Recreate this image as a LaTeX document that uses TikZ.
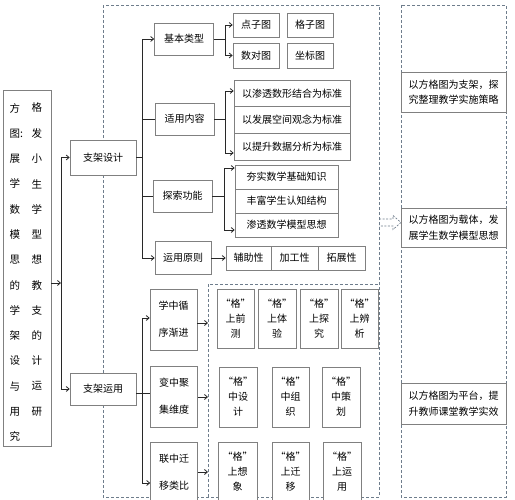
\documentclass[tikz,border=0pt]{standalone}
\usepackage{fontspec}
\setmainfont{Noto Sans CJK SC}
\usetikzlibrary{arrows.meta,calc}
\definecolor{boxgray}{RGB}{128,128,128}
\definecolor{lineblack}{RGB}{40,40,40}
\definecolor{dashgray}{RGB}{110,125,140}
\begin{document}
\begin{tikzpicture}[x=1pt,y=-1pt,
 box/.style={draw=boxgray, line width=0.6pt, fill=white, inner sep=0pt, font=\fontsize{10}{12}\selectfont},
 tbox/.style={box, align=center, font=\fontsize{10}{15}\selectfont},
 vbox/.style={box, align=center, minimum width=47, minimum height=61, font=\fontsize{10}{27}\selectfont},
 rbox/.style={box, align=left, minimum width=105, font=\fontsize{10}{15.5}\selectfont},
 conn/.style={draw=lineblack, line width=0.8pt},
 arr/.style={conn, -{Straight Barb[length=3pt,width=5pt]}},
 dbox/.style={draw=dashgray, line width=0.8pt, dash pattern=on 3pt off 2pt},
 ltxt/.style={anchor=west, inner sep=0pt, font=\fontsize{10.5}{12}\selectfont}
]
\useasboundingbox (0,0) rectangle (515,500);
% dashed frames
\draw[dbox] (103,5) rectangle (379,497);
\draw[dbox] (401,5) rectangle (506,497);
\draw[dbox] (208,497) -- (208,284) -- (379,284);
\draw[dbox, line width=0.7pt, dash pattern=on 2pt off 1.5pt] (379,219) -- (393,219) -- (393,215.5) -- (401,222.5) -- (393,229.5) -- (393,226) -- (379,226);

% left title box
\node[box, minimum width=48, minimum height=356] (L) at (27,268) {};
\foreach \a/\b [count=\i from 0] in {方/格,图:/发,展/小,学/生,数/学,模/型,思/想,的/教,学/支,架/的,设/计,与/运,用/研,究/{}} {
  \node[ltxt] (lt\i) at (9.5,{108+25.3*\i}) {\a};
  \node[ltxt] (rt\i) at (31.5,{108+25.3*\i}) {\b};
}

\node[box, minimum width=66, minimum height=35] (sjsj) at (103,157.5) {支架设计};
\node[box, minimum width=66, minimum height=32] (sjyy) at (103,389) {支架运用};

% upper branch
\node[box, minimum width=59, minimum height=32] (jblx) at (184,39) {基本类型};
\node[box, minimum width=59, minimum height=32] (syrn) at (184.5,119) {适用内容};
\node[box, minimum width=59, minimum height=32] (tsgn) at (182.5,196) {探索功能};
\node[box, minimum width=56, minimum height=33] (yyyz) at (183,258) {运用原则};

\node[box, minimum width=46, minimum height=24] (dzt) at (256,25) {点子图};
\node[box, minimum width=46, minimum height=24] (gzt) at (310,25) {格子图};
\node[box, minimum width=46, minimum height=25] (sdt) at (256,55.5) {数对图};
\node[box, minimum width=46, minimum height=25] (zbt) at (310,55.5) {坐标图};

\node[box, minimum width=116, minimum height=26.7] (sy1) at (292,93.3) {以渗透数形结合为标准};
\node[box, minimum width=116, minimum height=26.7] (sy2) at (292,120) {以发展空间观念为标准};
\node[box, minimum width=116, minimum height=26.7] (sy3) at (292,146.7) {以提升数据分析为标准};

\node[box, minimum width=103, minimum height=24] (ts1) at (286.5,177) {夯实数学基础知识};
\node[box, minimum width=103, minimum height=24] (ts2) at (286.5,201) {丰富学生认知结构};
\node[box, minimum width=103, minimum height=24] (ts3) at (286.5,225) {渗透数学模型思想};

\node[box, minimum width=45, minimum height=24] (fzx) at (248.5,258) {辅助性};
\node[box, minimum width=47, minimum height=24] (jgx) at (294.5,258) {加工性};
\node[box, minimum width=47, minimum height=24] (tzx) at (341.5,258) {拓展性};

% lower branch
\node[vbox] (xz) at (173.5,319.5) {学中循\\序渐进};
\node[vbox] (bz) at (174,396.5) {变中聚\\集维度};
\node[vbox] (lz) at (174,472.5) {联中迁\\移类比};

\node[tbox, minimum width=37, minimum height=59] (a1) at (235.5,318.5) {“格”\\上前\\测};
\node[tbox, minimum width=38, minimum height=59] (a2) at (277,318.5) {“格”\\上体\\验};
\node[tbox, minimum width=38, minimum height=59] (a3) at (319,318.5) {“格”\\上探\\究};
\node[tbox, minimum width=37, minimum height=59] (a4) at (359.5,318.5) {“格”\\上辨\\析};

\node[tbox, minimum width=38, minimum height=60] (b1) at (238,397) {“格”\\中设\\计};
\node[tbox, minimum width=37, minimum height=60] (b2) at (290.5,397) {“格”\\中组\\织};
\node[tbox, minimum width=38, minimum height=60] (b3) at (341,397) {“格”\\中策\\划};

\node[tbox, minimum width=39, minimum height=60] (c1) at (237.5,472) {“格”\\上想\\象};
\node[tbox, minimum width=37, minimum height=60] (c2) at (290.5,472) {“格”\\上迁\\移};
\node[tbox, minimum width=38, minimum height=60] (c3) at (342,472) {“格”\\上运\\用};

% right column
\node[rbox, minimum height=40] (r1) at (453.5,92) {以方格图为支架，探\\究整理教学实施策略};
\node[rbox, minimum height=39] (r2) at (453.5,227.5) {以方格图为载体，发\\展学生数学模型思想};
\node[rbox, minimum height=41] (r3) at (453.5,403.5) {以方格图为平台，提\\升教师课堂教学实效};

% connectors: left
\coordinate (j1) at (61,283);
\draw[arr] (L.east |- j1) -- (j1);
\draw[arr] (j1) |- (sjsj.west);
\draw[arr] (j1) |- (sjyy.west);

% trunk 1
\coordinate (t1) at (142,157.5);
\draw[conn] (sjsj.east) -- (t1);
\draw[arr] (t1) |- (jblx.west);
\draw[arr] (t1) |- (yyyz.west);
\draw[conn] (syrn.west -| t1) -- (syrn.west);
\draw[conn] (tsgn.west -| t1) -- (tsgn.west);

\coordinate (f1) at (225,39);
\draw[conn] (jblx.east) -- (f1);
\draw[arr] (f1) |- (dzt.west);
\draw[arr] (f1) |- (sdt.west);

\coordinate (f2) at (225,119);
\draw[conn] (syrn.east) -- (f2);
\draw[arr] (f2) |- (sy1.west |- 0,91);
\draw[arr] (f2) |- (sy3.west |- 0,153);

\coordinate (f3) at (224,196);
\draw[conn] (tsgn.east) -- (f3);
\draw[arr] (f3) |- (ts1.west |- 0,168);
\draw[arr] (f3) |- (ts3.west |- 0,230);

\draw[arr] (yyyz.east) -- (fzx.west);

% trunk 2
\coordinate (t2) at (142,393);
\draw[conn] (sjyy.east |- t2) -- (bz.west |- t2);
\draw[arr] (t2) |- (xz.west |- 0,318);
\draw[arr] (t2) |- (lz.west |- 0,483);

\coordinate (iw) at (208,284);
\draw[arr] (xz.east |- 0,323) -- (iw |- 0,323);
\draw[arr] (bz.east |- 0,397) -- (iw |- 0,397);
\draw[arr] (lz.east |- 0,472) -- (iw |- 0,472);
\end{tikzpicture}
\end{document}
